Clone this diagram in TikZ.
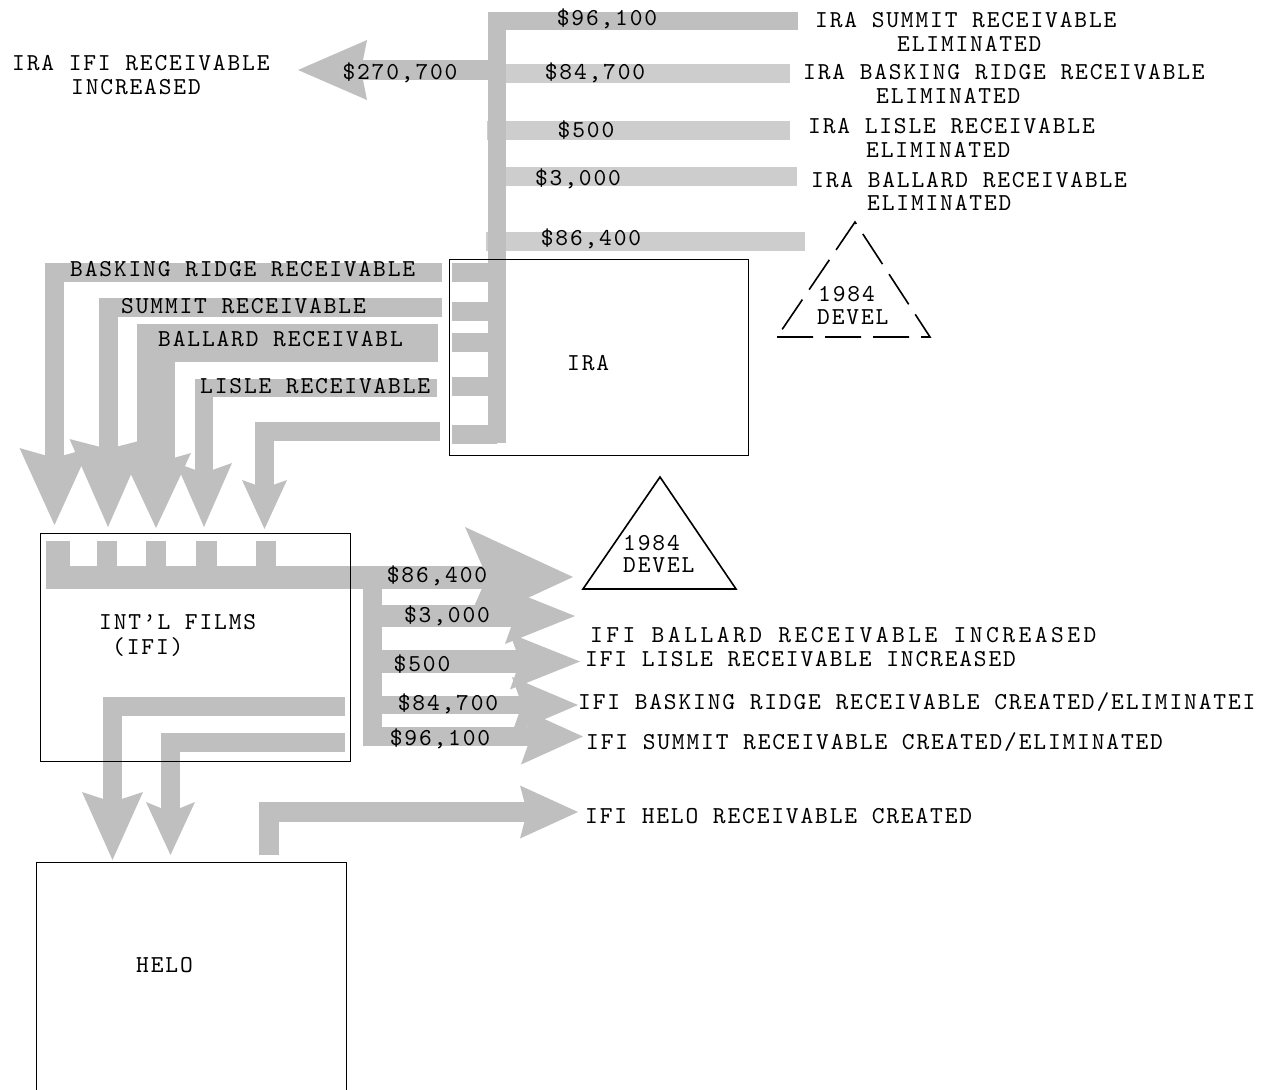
\documentclass[tikz,border=0pt]{standalone}
\usepackage{fontspec}
\setmonofont{lmmono10-regular.otf}[LetterSpace=7.6]
\usetikzlibrary{arrows.meta,positioning}
\definecolor{bandgray}{RGB}{191,191,191}
\definecolor{bandlight}{RGB}{205,205,205}
\newcommand{\typed}{\ttfamily\fontsize{24.3}{24}\selectfont}
\tikzset{
  lbl/.style={font=\typed, inner sep=0pt, text height=14.8pt, text depth=0pt, anchor=west},
  widelbl/.style={lbl, font={\typed\addfontfeature{LetterSpace=14.4}}},
  acct/.style={draw, line width=0.8pt, inner sep=0pt},
  band/.style={draw=bandgray, line cap=butt, line join=miter},
  paleband/.style={draw=bandlight, line cap=butt},
  fathead/.style n args={3}{-{Stealth[length=#1pt,width=#2pt,inset=#3pt,line width=0pt]}},
}
\begin{document}
\begin{tikzpicture}[x=1pt,y=-1pt]
\useasboundingbox (0,0) rectangle (1273,1089);
\clip (0,0) rectangle (1273,1089);

% IRA outflows
\coordinate (s84) at (506,73.5);  \coordinate (e84) at (790,73.5);
\coordinate (s5)  at (487,130.5); \coordinate (e5)  at (790,130.5);
\coordinate (s3)  at (506,176.5); \coordinate (e3)  at (797,176.5);
\coordinate (s86) at (486,241.5); \coordinate (e86) at (805,241.5);
\foreach \a/\b in {s84/e84,s5/e5,s3/e3,s86/e86}
  \draw[paleband, line width=19] (\a) -- (\b);

\coordinate (e96) at (798,21);
\coordinate (iraFoot) at (497,443);
\draw[band, line width=18] (e96) -| (iraFoot);
\coordinate (s270) at (488,70);
\coordinate (e270) at (298,70);
\draw[band, line width=20, fathead={69}{60}{6}] (s270) -- (e270);

\foreach \y in {272.5,311.5,342.5,386.5,434}
  \draw[band, line width=19] (497,\y) -- (452,\y);

% receivables moved to IFI
\coordinate (bsk) at (442,272.5);   \coordinate (bskTip) at (54.5,525);
\coordinate (smt) at (442,307.5);   \coordinate (smtTip) at (108,527);
\coordinate (bal) at (438,343);     \coordinate (balTip) at (156,528);
\coordinate (lsl) at (437,387.5);   \coordinate (lslTip) at (204,527);
\coordinate (rcv) at (440,431.5);   \coordinate (rcvTip) at (264.5,529);
\draw[band, line width=19, fathead={77}{70}{10}] (bsk) -| (bskTip);
\draw[band, line width=19, fathead={88}{77}{10}] (smt) -| (smtTip);
\draw[band, line width=38, fathead={75}{70}{10}] (bal) -| (balTip);
\draw[band, line width=18, fathead={64}{56}{10}] (lsl) -| (lslTip);
\draw[band, line width=19, fathead={49}{45}{8}] (rcv) -| (rcvTip);

% IFI comb and outflows
\foreach \x/\w in {58/24,107/20,156/20,206.5/21,266/20}
  \draw[band, line width=\w] (\x,541) -- (\x,566);
\coordinate (comb) at (46,577);  \coordinate (to86) at (573,577);
\draw[band, line width=23, fathead={108}{100}{22}] (comb) -- (to86);
\coordinate (ifiTrunk) at (372,577); \coordinate (to96) at (583,736.5);
\draw[band, line width=19, fathead={62}{56}{10}] (ifiTrunk) |- (to96);
\coordinate (f3) at (382,616);   \coordinate (to3) at (575,616);
\coordinate (f5) at (382,661.5); \coordinate (to5) at (580,661.5);
\coordinate (f84) at (382,705);  \coordinate (to84) at (578,705);
\draw[band, line width=22, fathead={70}{56}{10}] (f3) -- (to3);
\draw[band, line width=23, fathead={70}{56}{10}] (f5) -- (to5);
\draw[band, line width=18, fathead={66}{56}{10}] (f84) -- (to84);

% IFI to HELO
\coordinate (hA) at (345,706.5); \coordinate (hATip) at (112.5,860);
\coordinate (hB) at (345,742);   \coordinate (hBTip) at (170.5,855);
\draw[band, line width=19, fathead={68}{61}{10}] (hA) -| (hATip);
\draw[band, line width=19, fathead={53}{49}{10}] (hB) -| (hBTip);
\coordinate (hOut) at (269,855); \coordinate (hOutTip) at (578,812);
\draw[band, line width=20, fathead={58}{53}{7}] (hOut) |- (hOutTip);

% companies
\node[acct, minimum width=299pt, minimum height=196pt] (ira) at (598.5,357) {};
\node[acct, minimum width=310pt, minimum height=228pt] (ifi) at (195,647) {};
\node[acct, minimum width=310pt, minimum height=240pt] (helo) at (191,982) {};
\node[lbl] (iraName) at (567,363) {IRA};
\node[lbl] (ifiName) at (99,622) {INT’L FILMS};
\node[lbl] (ifiAbbr) at (112,647) {(IFI)};
\node[lbl] (heloName) at (136,965) {HELO};

% 1984 devel
\coordinate (dvA) at (855,222); \coordinate (dvL) at (777,337); \coordinate (dvR) at (930,337);
\draw[line width=1.6pt, dash pattern=on 36pt off 12pt] (dvL) -- (dvR) -- (dvA) -- cycle;
\node[lbl] (dvYear) at (818,294) {1984};
\node[lbl] (dvName) at (817,317) {DEVEL};
\coordinate (dwA) at (660,477); \coordinate (dwL) at (583,589); \coordinate (dwR) at (736,589);
\draw[line width=1.6pt] (dwL) -- (dwR) -- (dwA) -- cycle;
\node[lbl] (dwYear) at (623,543) {1984};
\node[lbl] (dwName) at (623,565) {DEVEL};

% amounts
\node[lbl, anchor=center] (a96) at (607,18) {\$96,100};
\node[lbl, anchor=center] (a270) at (400,72) {\$270,700};
\node[lbl, anchor=center] (a84) at (595,72) {\$84,700};
\node[lbl, anchor=center] (a5) at (586,130) {\$500};
\node[lbl, anchor=center] (a3) at (578,178) {\$3,000};
\node[lbl, anchor=center] (a86) at (591,238) {\$86,400};
\node[lbl, anchor=center] (b86) at (437,575) {\$86,400};
\node[lbl, anchor=center] (b3) at (447,615) {\$3,000};
\node[lbl, anchor=center] (b5) at (422,664) {\$500};
\node[lbl, anchor=center] (b84) at (448,703) {\$84,700};
\node[lbl, anchor=center] (b96) at (440,738) {\$96,100};

% band names
\node[lbl] (nBsk) at (70,269) {BASKING RIDGE RECEIVABLE};
\node[lbl] (nSmt) at (121,306) {SUMMIT RECEIVABLE};
\node[lbl] (nBal) at (158,339) {BALLARD RECEIVABL};
\node[lbl] (nLsl) at (200,386) {LISLE RECEIVABLE};

% results
\node[lbl] (r1) at (815,20) {IRA SUMMIT RECEIVABLE};
\node[lbl] (r1b) at (897,44) {ELIMINATED};
\node[lbl] (r2) at (803,72) {IRA BASKING RIDGE RECEIVABLE};
\node[lbl] (r2b) at (876,96) {ELIMINATED};
\node[lbl] (r3) at (808,126) {IRA LISLE RECEIVABLE};
\node[lbl] (r3b) at (866,150) {ELIMINATED};
\node[lbl] (r4) at (811,180) {IRA BALLARD RECEIVABLE};
\node[lbl] (r4b) at (867,203) {ELIMINATED};
\node[lbl] (r5) at (12,63) {IRA IFI RECEIVABLE};
\node[lbl] (r5b) at (71,87) {INCREASED};
\node[widelbl] (q1) at (590,635) {IFI BALLARD RECEIVABLE INCREASED};
\node[lbl] (q2) at (585,659) {IFI LISLE RECEIVABLE INCREASED};
\node[lbl] (q3) at (578,702) {IFI BASKING RIDGE RECEIVABLE CREATED/ELIMINATEI};
\node[lbl] (q4) at (586,742) {IFI SUMMIT RECEIVABLE CREATED/ELIMINATED};
\node[lbl] (q5) at (585,816) {IFI HELO RECEIVABLE CREATED};
\end{tikzpicture}
\end{document}
